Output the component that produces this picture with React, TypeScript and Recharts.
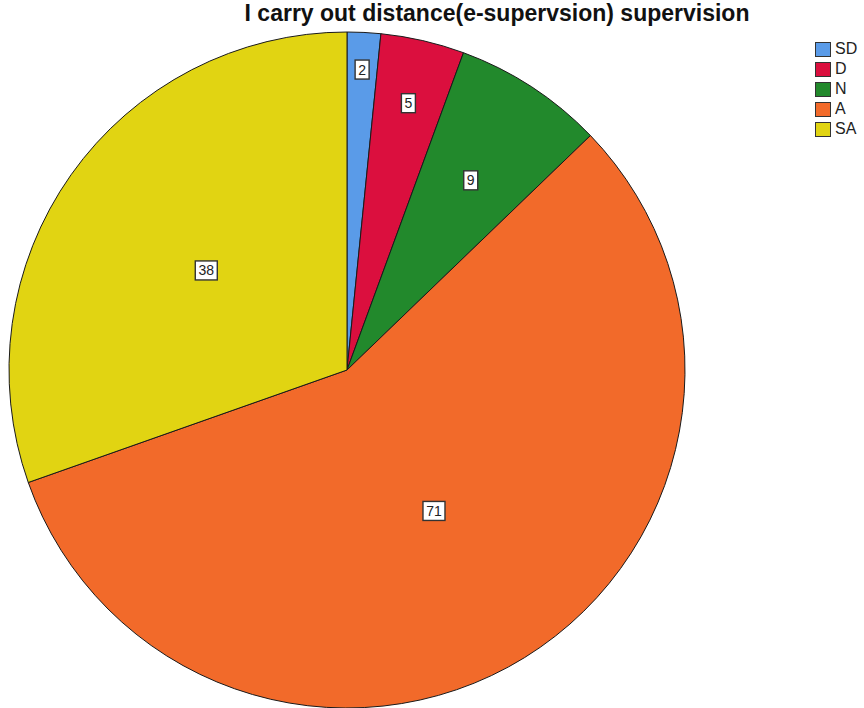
import { PieChart, Pie, Cell, Legend } from "recharts";

const categories = ["SD", "D", "N", "A", "SA"];
const counts = [2, 5, 9, 71, 38];
const colors = ["#5A9BE8", "#DB0F3E", "#22892C", "#F26A2A", "#E1D412"];
const title = "I carry out distance(e-supervsion) supervision";

// how far out each value box sits, as a share of the radius
const labelReach = [0.89, 0.81, 0.67, 0.49, 0.51];

const data = categories.map((name, i) => ({ name, value: counts[i] }));

const RADIAN = Math.PI / 180;

function ValueLabel(props: any) {
  const { cx, cy, midAngle, outerRadius, value, index } = props;
  const r = outerRadius * labelReach[index];
  const x = cx + r * Math.cos(-midAngle * RADIAN);
  const y = cy + r * Math.sin(-midAngle * RADIAN);
  const text = String(value);
  const w = text.length * 8 + 6;
  const h = 19;
  return (
    <g>
      <rect x={x - w / 2} y={y - h / 2} width={w} height={h} fill="#fff" stroke="#333" strokeWidth={1.4} />
      <text x={x} y={y + 5} textAnchor="middle" fontSize={14} fill="#222"
        fontFamily="'Liberation Sans', Arial, sans-serif">{text}</text>
    </g>
  );
}

function LegendBox() {
  return (
    <div style={{ fontFamily: "'Liberation Sans', Arial, sans-serif" }}>
      {data.map((d, i) => (
        <div key={d.name} style={{ display: "flex", alignItems: "center", height: 20 }}>
          <span style={{
            display: "inline-block", width: 14, height: 13, background: colors[i],
            border: "1px solid #333", marginRight: 4,
          }} />
          <span style={{ fontSize: 16, color: "#222" }}>{d.name}</span>
        </div>
      ))}
    </div>
  );
}

export default function App() {
  return (
    <div style={{ position: "absolute", left: 0, top: 0, width: 864, height: 708, background: "#fff", overflow: "hidden" }}>
      <div style={{
        position: "absolute", left: 0, top: 0, width: 994, textAlign: "center",
        fontFamily: "'Liberation Sans', Arial, sans-serif", fontWeight: 700, fontSize: 23, color: "#111",
      }}>
        {title}
      </div>
      <PieChart width={864} height={708} margin={{ top: 0, right: 0, bottom: 0, left: 0 }}>
        <Pie
          data={data} dataKey="value" nameKey="name"
          cx={347} cy={370} outerRadius={338}
          startAngle={90} endAngle={-270}
          stroke="#1a1a1a" strokeWidth={1}
          label={ValueLabel} labelLine={false}
          isAnimationActive={false}
        >
          {data.map((d, i) => <Cell key={d.name} fill={colors[i]} />)}
        </Pie>
        <Legend
          layout="vertical" verticalAlign="top" align="right"
          wrapperStyle={{ position: "absolute", left: 815, top: 39, width: 50 }}
          content={() => <LegendBox />}
        />
      </PieChart>
    </div>
  );
}
